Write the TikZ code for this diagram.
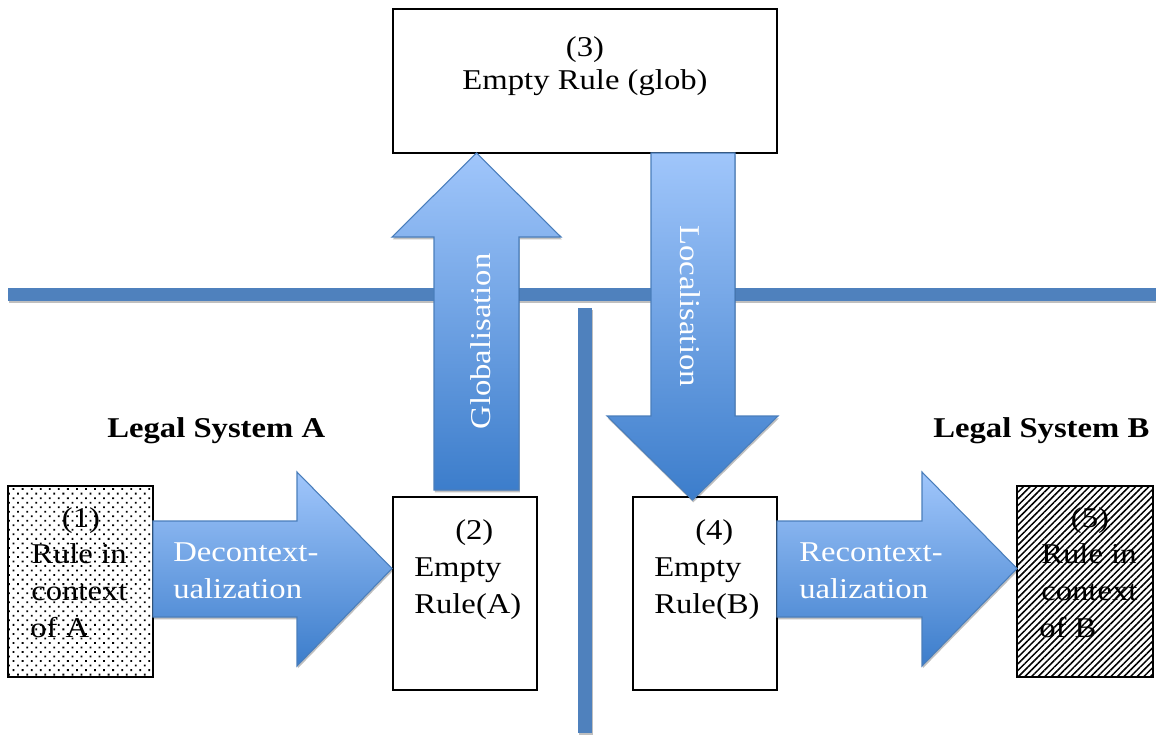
\documentclass[tikz,border=0pt]{standalone}
\usepackage{fontspec}
\setmainfont{Liberation Serif}[FakeStretch=1.14]
\usetikzlibrary{patterns.meta,shadows}
\definecolor{lineblue}{HTML}{4F81BD}
\definecolor{arrtop}{HTML}{A0C6FB}
\definecolor{arrbot}{HTML}{3C7DCB}
\definecolor{arredge}{HTML}{4A7EBB}
\begin{document}
\begin{tikzpicture}[x=0.75pt,y=-0.75pt,
  box/.style={draw=black,line width=1.5pt,fill=white,inner sep=0pt},
  txt/.style={font=\fontsize{21.5}{27.75}\selectfont,inner sep=0pt,anchor=base west},
  ctxt/.style={txt,anchor=base},
  wtxt/.style={txt,text=white},
  boldtxt/.style={txt,font=\fontsize{21.5}{27.75}\selectfont\bfseries},
  blockarrow/.style={draw=arredge,line width=0.8pt,top color=arrtop,bottom color=arrbot,
    drop shadow={shadow xshift=0.6pt,shadow yshift=-1.8pt,opacity=0.25,fill=black}},
  band/.style={fill=lineblue,draw=none,
    drop shadow={shadow xshift=0.4pt,shadow yshift=-1.5pt,opacity=0.25,fill=black}}
]
\useasboundingbox (0,0) rectangle (1156,738);

% separating lines
\fill[band] (8,288) rectangle (1156,301);
\fill[band] (578,308) rectangle (592,733);

% boxes
\node[box,minimum width=108.75pt,minimum height=143.25pt,
  pattern={Dots[distance=4.8pt,radius=0.95pt,angle=45]},preaction={fill=white}] (b1) at (80.5,581.5) {};
\node[box,minimum width=108pt,minimum height=144.75pt] (b2) at (465,593.5) {};
\node[box,minimum width=288pt,minimum height=108pt] (b3) at (585,81) {};
\node[box,minimum width=108pt,minimum height=144.75pt] (b4) at (705,593.5) {};
\node[box,minimum width=102pt,minimum height=143.25pt,
  pattern={Lines[angle=45,distance=3.5pt,line width=1.15pt]},preaction={fill=white}] (b5) at (1085,581.5) {};

% block arrows
\path[blockarrow] (434,490) -- (434,237) -- (392,237) -- (476.5,153) -- (561,237) -- (519,237) -- (519,490) -- cycle;
\path[blockarrow] (651,153) -- (735,153) -- (735,416) -- (778,416) -- (692.5,500) -- (607,416) -- (651,416) -- cycle;
\path[blockarrow] (153,521) -- (297,521) -- (297,472) -- (392,568.5) -- (297,666) -- (297,617) -- (153,617) -- cycle;
\path[blockarrow] (777,521) -- (922,521) -- (922,472) -- (1017,568.5) -- (922,666) -- (922,617) -- (777,617) -- cycle;

% box texts
\node[ctxt] (t1a) at (81,527) {(1)};
\node[txt] (t1b) at (31,563) {Rule in};
\node[txt] (t1c) at (31,600) {context};
\node[txt] (t1d) at (30,637) {of A};

\node[txt] (t2a) at (455,539) {(2)};
\node[txt] (t2b) at (414,576) {Empty};
\node[txt] (t2c) at (414,613) {Rule(A)};

\node[ctxt] (t3a) at (585,57) {(3)};
\node[ctxt] (t3b) at (585,90) {Empty Rule (glob)};

\node[txt] (t4a) at (695,539) {(4)};
\node[txt] (t4b) at (654,576) {Empty};
\node[txt] (t4c) at (654,613) {Rule(B)};

\node[ctxt] (t5a) at (1090,527) {(5)};
\node[txt] (t5b) at (1041,563) {Rule in};
\node[txt] (t5c) at (1041,600) {context};
\node[txt] (t5d) at (1039,637) {of B};

% arrow texts
\node[wtxt] (d1) at (173,561) {Decontext-};
\node[wtxt] (d2) at (173,598) {ualization};
\node[wtxt] (r1) at (799,561) {Recontext-};
\node[wtxt] (r2) at (799,598) {ualization};
\node[wtxt,anchor=base,rotate=90] (g) at (490,341.5) {Globalisation};
\node[wtxt,anchor=base,rotate=-90] (l) at (680,306) {Localisation};

% system labels
\node[boldtxt] (la) at (107,437) {Legal System A};
\node[boldtxt] (lb) at (933,437) {Legal System B};
\end{tikzpicture}
\end{document}
